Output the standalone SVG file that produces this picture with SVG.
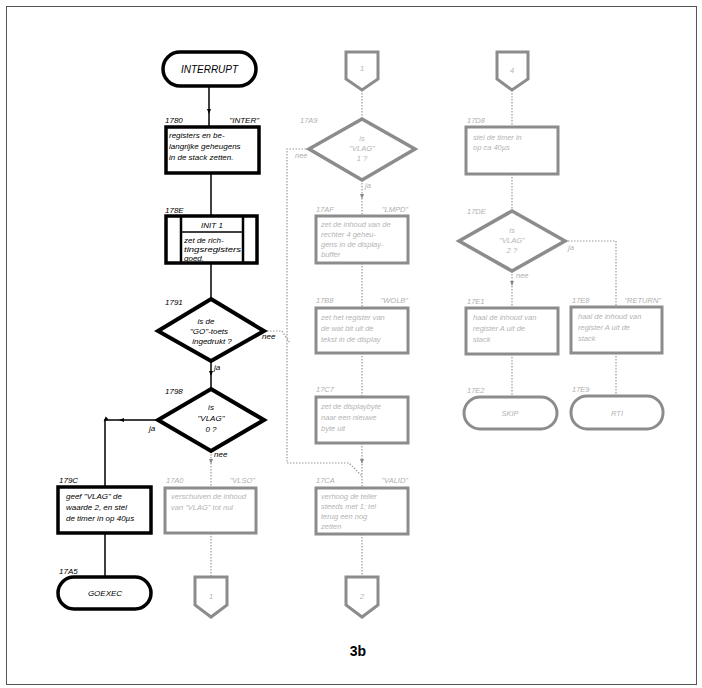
<svg xmlns="http://www.w3.org/2000/svg" width="702" height="688" viewBox="0 0 702 688">
<defs>
<style>
text{font-family:"Liberation Sans",Arial,sans-serif;font-style:italic;}
.lbl{font-size:8px;fill:#000;}
.t{font-size:8px;fill:#000;}
.fl{font-size:7.5px;fill:#b0b0b0;}
.ft{font-size:7.5px;fill:#b4b4b4;}
.num{font-style:normal;font-weight:bold;font-size:14px;fill:#000;}
.box{fill:#fff;stroke:#000;stroke-width:3.5;}
.dia{fill:#fff;stroke:#000;stroke-width:4;stroke-linejoin:miter;}
.fbox{fill:#fff;stroke:#8c8c8c;stroke-width:3;}
.fdia{fill:#fff;stroke:#8c8c8c;stroke-width:3.5;}
.ln{fill:none;stroke:#000;stroke-width:1.5;}
.dl{fill:none;stroke:#9a9a9a;stroke-width:1.2;stroke-dasharray:1.5 1.5;}
</style>
<marker id="ar" markerWidth="6" markerHeight="6" refX="3" refY="3" orient="auto" markerUnits="userSpaceOnUse"><path d="M0,1 L5,3 L0,5 z" fill="#000"/></marker>
<marker id="arg" markerWidth="6" markerHeight="6" refX="3" refY="3" orient="auto" markerUnits="userSpaceOnUse"><path d="M0,1 L5,3 L0,5 z" fill="#888"/></marker>
</defs>
<rect x="0" y="0" width="702" height="688" fill="#fff"/>
<rect x="6.5" y="6.5" width="690" height="678" fill="none" stroke="#555" stroke-width="1"/>

<g id="connectors">
<path class="ln" d="M209,86 L209,112 L209,127" marker-mid="url(#ar)"/>
<path class="ln" d="M211,173 L211,216"/>
<path class="ln" d="M211,263 L211,299"/>
<path class="ln" d="M211,361 L211,374 L211,389" marker-mid="url(#ar)"/>
<path class="ln" d="M158,420 L121,420 L105,420 L105,487" marker-mid="url(#ar)"/>
<path class="ln" d="M105,533 L105,577"/>
<path class="dl" d="M211,451 L211,462 L211,488" marker-mid="url(#arg)"/>
<path class="dl" d="M211,533 L211,577"/>
<path class="dl" d="M264,331 L282,331 L290,343"/>
<path class="dl" d="M362,90 L362,119"/>
<path class="dl" d="M309,149 L287,149 L287,463 L349,463 L362,476"/>
<path class="dl" d="M362,180 L362,197 L362,216" marker-mid="url(#arg)"/>
<path class="dl" d="M362,263 L362,308"/>
<path class="dl" d="M362,353 L362,397"/>
<path class="dl" d="M362,443 L362,462 L362,488" marker-mid="url(#arg)"/>
<path class="dl" d="M362,534 L362,577"/>
<path class="dl" d="M512,90 L512,127"/>
<path class="dl" d="M512,174 L512,211"/>
<path class="dl" d="M512,271 L512,284 L512,308" marker-mid="url(#arg)"/>
<path class="dl" d="M565,241 L616,241 L616,307"/>
<path class="dl" d="M512,354 L512,397"/>
<path class="dl" d="M616,353 L616,396"/>
</g>

<g id="interrupt">
<rect x="163" y="52" width="93" height="34" rx="17" fill="#fff" stroke="#000" stroke-width="3.5"/>
<text class="t" x="209.5" y="73" text-anchor="middle" style="font-size:10px">INTERRUPT</text>
</g>

<g id="n1780">
<text class="lbl" x="165" y="123">1780</text>
<text class="lbl" x="259" y="123" text-anchor="end">"INTER"</text>
<rect class="box" x="166" y="127" width="93" height="46"/>
<text class="t" x="169" y="138">registers en be-</text>
<text class="t" x="169" y="149">langrijke geheugens</text>
<text class="t" x="169" y="160">in de stack zetten.</text>
</g>

<g id="n178E">
<text class="lbl" x="165" y="213">178E</text>
<rect class="box" x="166" y="216" width="91" height="47"/>
<line x1="181" y1="216" x2="181" y2="263" stroke="#000" stroke-width="2.5"/>
<line x1="243" y1="216" x2="243" y2="263" stroke="#000" stroke-width="2.5"/>
<line x1="181" y1="232" x2="243" y2="232" stroke="#000" stroke-width="1.5"/>
<text class="t" x="212" y="228" text-anchor="middle">INIT 1</text>
<text class="t" x="184" y="243">zet de rich-</text>
<text class="t" x="184" y="252" textLength="57" lengthAdjust="spacingAndGlyphs">tingsregisters</text>
<text class="t" x="184" y="261">goed.</text>
</g>

<g id="n1791">
<text class="lbl" x="165" y="305">1791</text>
<polygon class="dia" points="211,299 264,331 211,361 158,331"/>
<text class="t" x="206" y="324" text-anchor="middle">is de</text>
<text class="t" x="209" y="334" text-anchor="middle">"GO"-toets</text>
<text class="t" x="212" y="344" text-anchor="middle">ingedrukt ?</text>
<text class="lbl" x="262" y="339">nee</text>
<text class="lbl" x="214" y="370">ja</text>
</g>

<g id="n1798">
<text class="lbl" x="165" y="394">1798</text>
<polygon class="dia" points="211,389 264,420 211,451 158,420"/>
<text class="t" x="211" y="410" text-anchor="middle">is</text>
<text class="t" x="211" y="421" text-anchor="middle">"VLAG"</text>
<text class="t" x="211" y="432" text-anchor="middle">0 ?</text>
<text class="lbl" x="149" y="431">ja</text>
<text class="lbl" x="214" y="457">nee</text>
</g>

<g id="n179C">
<text class="lbl" x="59" y="483">179C</text>
<rect class="box" x="58" y="487" width="93" height="46"/>
<text class="t" x="66" y="499">geef "VLAG" de</text>
<text class="t" x="66" y="510">waarde 2, en stel</text>
<text class="t" x="66" y="521">de timer in op 40µs</text>
</g>

<g id="n17A5">
<text class="lbl" x="59" y="574">17A5</text>
<rect x="58" y="577" width="93" height="32" rx="16" fill="#fff" stroke="#000" stroke-width="3.5"/>
<text class="t" x="105" y="596" text-anchor="middle">GOEXEC</text>
</g>

<g id="n17A0">
<text class="fl" x="166" y="483">17A0</text>
<text class="fl" x="255" y="483" text-anchor="end">"VLSO"</text>
<rect class="fbox" x="165" y="488" width="91" height="45"/>
<text class="ft" x="171" y="499">verschuiven de inhoud</text>
<text class="ft" x="171" y="510">van "VLAG" tot nul</text>
</g>

<g id="c1a">
<polygon class="fbox" points="195,577 227,577 227,605 211,617 195,605"/>
<text class="ft" x="211" y="599" text-anchor="middle">1</text>
</g>

<g id="c1b">
<polygon class="fbox" points="346,52 378,52 378,79 362,90 346,79"/>
<text class="ft" x="362" y="71" text-anchor="middle">1</text>
</g>

<g id="n17A9">
<text class="fl" x="300" y="123">17A9</text>
<polygon class="fdia" points="362,119 415,149 362,180 309,149"/>
<text class="ft" x="362" y="141" text-anchor="middle">is</text>
<text class="ft" x="362" y="151" text-anchor="middle">"VLAG"</text>
<text class="ft" x="362" y="161" text-anchor="middle">1 ?</text>
<text class="fl" x="295" y="158">nee</text>
<text class="fl" x="365" y="188">ja</text>
</g>

<g id="n17AF">
<text class="fl" x="316" y="212">17AF</text>
<text class="fl" x="408" y="212" text-anchor="end">"LMPD"</text>
<rect class="fbox" x="316" y="216" width="92" height="47"/>
<text class="ft" x="321" y="227">zet de inhoud van de</text>
<text class="ft" x="321" y="237">rechter 4 geheu-</text>
<text class="ft" x="321" y="247">gens in de display-</text>
<text class="ft" x="321" y="257">buffer</text>
</g>

<g id="n17B8">
<text class="fl" x="316" y="303">17B8</text>
<text class="fl" x="408" y="303" text-anchor="end">"WOLB"</text>
<rect class="fbox" x="316" y="308" width="92" height="45"/>
<text class="ft" x="321" y="320">zet het register van</text>
<text class="ft" x="321" y="331">de wat bit uit de</text>
<text class="ft" x="321" y="342">tekst in de display</text>
</g>

<g id="n17C7">
<text class="fl" x="316" y="392">17C7</text>
<rect class="fbox" x="316" y="397" width="92" height="46"/>
<text class="ft" x="321" y="409">zet de displaybyte</text>
<text class="ft" x="321" y="420">naar een nieuwe</text>
<text class="ft" x="321" y="431">byte uit</text>
</g>

<g id="n17CA">
<text class="fl" x="316" y="483">17CA</text>
<text class="fl" x="408" y="483" text-anchor="end">"VALID"</text>
<rect class="fbox" x="316" y="488" width="92" height="46"/>
<text class="ft" x="321" y="499">verhoog de teller</text>
<text class="ft" x="321" y="509">steeds met 1; tel</text>
<text class="ft" x="321" y="519">terug een nog</text>
<text class="ft" x="321" y="529">zetten</text>
</g>

<g id="c2">
<polygon class="fbox" points="346,577 378,577 378,605 362,617 346,605"/>
<text class="ft" x="362" y="599" text-anchor="middle">2</text>
</g>

<g id="c4">
<polygon class="fbox" points="497,52 528,52 528,79 512,90 497,79"/>
<text class="ft" x="512" y="73" text-anchor="middle">4</text>
</g>

<g id="n17D8">
<text class="fl" x="467" y="123">17D8</text>
<rect class="fbox" x="466" y="127" width="92" height="47"/>
<text class="ft" x="473" y="140">stel de timer in</text>
<text class="ft" x="473" y="150">op ca 40µs</text>
</g>

<g id="n17DE">
<text class="fl" x="467" y="214">17DE</text>
<polygon class="fdia" points="512,211 565,241 512,271 459,241"/>
<text class="ft" x="512" y="233" text-anchor="middle">is</text>
<text class="ft" x="512" y="243" text-anchor="middle">"VLAG"</text>
<text class="ft" x="512" y="253" text-anchor="middle">2 ?</text>
<text class="fl" x="568" y="250">ja</text>
<text class="fl" x="516" y="278">nee</text>
</g>

<g id="n17E1">
<text class="fl" x="467" y="304">17E1</text>
<rect class="fbox" x="466" y="308" width="92" height="46"/>
<text class="ft" x="473" y="320">haal de inhoud van</text>
<text class="ft" x="473" y="331">register A uit de</text>
<text class="ft" x="473" y="342">stack</text>
</g>

<g id="n17E8">
<text class="fl" x="572" y="303">17E8</text>
<text class="fl" x="661" y="303" text-anchor="end">"RETURN"</text>
<rect class="fbox" x="571" y="307" width="91" height="46"/>
<text class="ft" x="578" y="319">haal de inhoud van</text>
<text class="ft" x="578" y="330">register A uit de</text>
<text class="ft" x="578" y="341">stack</text>
</g>

<g id="n17E2">
<text class="fl" x="467" y="393">17E2</text>
<rect x="464" y="397" width="93" height="32" rx="16" fill="#fff" stroke="#8c8c8c" stroke-width="3"/>
<text class="ft" x="510" y="416" text-anchor="middle">SKIP</text>
</g>

<g id="n17E9">
<text class="fl" x="572" y="392">17E9</text>
<rect x="571" y="396" width="92" height="33" rx="16" fill="#fff" stroke="#8c8c8c" stroke-width="3"/>
<text class="ft" x="617" y="416" text-anchor="middle">RTI</text>
</g>

<text class="num" x="358" y="656" text-anchor="middle">3b</text>
</svg>
